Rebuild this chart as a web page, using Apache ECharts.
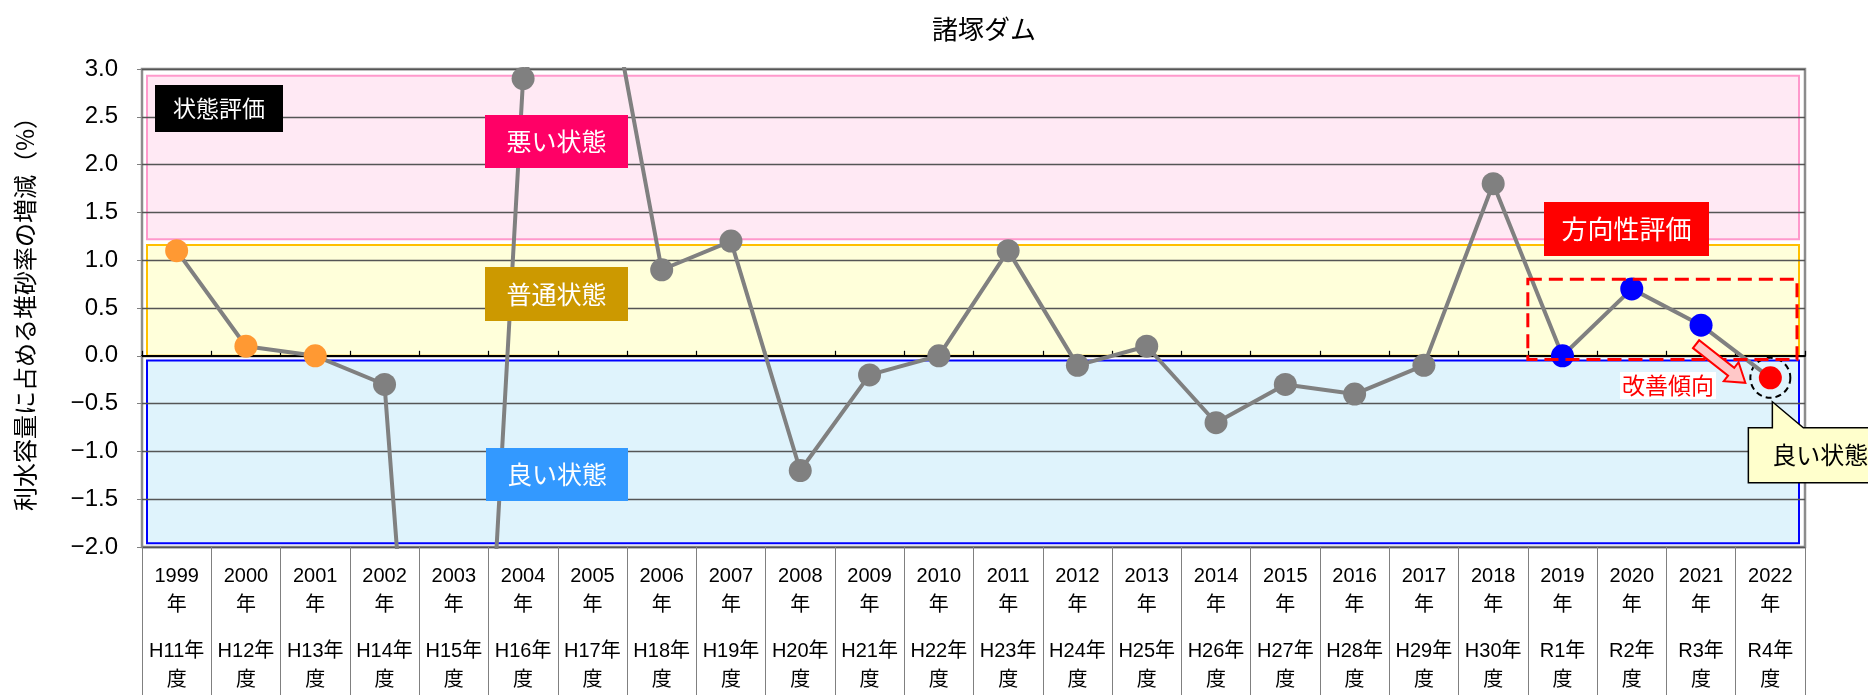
<!DOCTYPE html>
<html>
<head>
<meta charset="utf-8">
<title>諸塚ダム</title>
<script src="https://cdn.jsdelivr.net/npm/echarts@6/dist/echarts.min.js"></script>
<style>
html, body { margin: 0; padding: 0; background: #fff; }
#main { width: 1868px; height: 695px; }
</style>
</head>
<body>
<div id="main"></div>
<script>
// 西暦
const years = ['1999', '2000', '2001', '2002', '2003', '2004', '2005', '2006', '2007', '2008', '2009', '2010',
  '2011', '2012', '2013', '2014', '2015', '2016', '2017', '2018', '2019', '2020', '2021', '2022'];
// 和暦 (年度)
const eras = ['H11', 'H12', 'H13', 'H14', 'H15', 'H16', 'H17', 'H18', 'H19', 'H20', 'H21', 'H22',
  'H23', 'H24', 'H25', 'H26', 'H27', 'H28', 'H29', 'H30', 'R1', 'R2', 'R3', 'R4'];
// 利水容量に占める堆砂率の増減 (%)
const values = [1.1, 0.1, 0.0, -0.3, -9.9, 2.9, 4.8, 0.9, 1.2, -1.2, -0.2, 0.0,
  1.1, -0.1, 0.1, -0.7, -0.3, -0.4, -0.1, 1.8, 0.0, 0.7, 0.32, -0.23];

// 色分け
const earlyYears = ['1999', '2000', '2001'];
const trendYears = ['2019', '2020', '2021'];
const latestYear = '2022';

// 状態評価の帯 (%)
const badBand = [1.22, 2.93];
const normalBand = [0, 1.16];
const goodBand = [-1.96, -0.05];
const trendRange = [-0.04, 0.8];

const JP = '"Noto Sans CJK JP", sans-serif';
const NUM = '"Liberation Sans", "Noto Sans CJK JP", sans-serif';

const pointColor = (y) => {
  if (y === latestYear) return '#FF0000';
  if (trendYears.includes(y)) return '#0000FF';
  if (earlyYears.includes(y)) return '#FF9933';
  return '#808080';
};

const G = { left: 142, right: 63, top: 69, bottom: 148 };

const chart = echarts.init(document.getElementById('main'));

chart.setOption({
  animation: false,
  title: {
    text: '諸塚ダム',
    left: 927,
    top: 11,
    textStyle: { fontFamily: JP, fontSize: 26, fontWeight: 'normal', color: '#000' }
  },
  grid: {
    left: G.left, right: G.right, top: G.top, bottom: G.bottom,
    show: true, borderColor: '#8c8c8c', borderWidth: 2.5,
    outerBoundsMode: 'none'
  },
  xAxis: [
    {
      type: 'category',
      data: years,
      position: 'bottom',
      axisLine: { show: false, onZero: false },
      axisTick: { show: true, interval: 0, length: 148, lineStyle: { color: '#808080', width: 1 } },
      axisLabel: {
        interval: 0,
        margin: 15,
        color: '#000',
        formatter: (v, i) => `{a|${v}}\n{a|年}\n{g| }\n{a|${eras[i]}年}\n{a|度}`,
        rich: {
          a: { fontFamily: NUM, fontSize: 20, lineHeight: 29, color: '#000' },
          g: { fontSize: 10, lineHeight: 17 }
        }
      },
      splitLine: { show: false }
    },
    {
      type: 'category',
      data: years,
      position: 'top',
      axisLine: { show: true, onZero: true, lineStyle: { color: '#000', width: 2 } },
      axisTick: { show: true, interval: 0, length: 5, lineStyle: { color: '#000', width: 1.2 } },
      axisLabel: { show: false },
      splitLine: { show: false }
    }
  ],
  yAxis: {
    type: 'value',
    min: -2,
    max: 3,
    interval: 0.5,
    name: '利水容量に占める堆砂率の増減（%）',
    nameLocation: 'middle',
    nameGap: 105,
    nameTextStyle: { fontFamily: JP, fontSize: 24, color: '#000' },
    axisLine: { show: false },
    axisTick: { show: true, length: 5, lineStyle: { color: '#808080' } },
    axisLabel: {
      margin: 24,
      fontFamily: NUM,
      fontSize: 24,
      color: '#000',
      formatter: (v) => v.toFixed(1).replace('-', '−')
    },
    splitLine: { show: true, lineStyle: { color: '#555', width: 1.3 } }
  },
  series: [{
    type: 'line',
    xAxisIndex: 0,
    yAxisIndex: 0,
    clip: true,
    z: 5,
    data: values.map((v, i) => ({ value: v, itemStyle: { color: pointColor(years[i]) } })),
    symbol: 'circle',
    symbolSize: 23,
    lineStyle: { color: '#808080', width: 4 },
    emphasis: { disabled: true },
    markPoint: {
      symbol: 'circle',
      symbolSize: 40,
      silent: true,
      label: { show: false },
      itemStyle: { color: 'rgba(0,0,0,0)', borderColor: '#000', borderWidth: 2, borderType: [6, 4] },
      data: [{ coord: [latestYear, values[years.indexOf(latestYear)]] }]
    }
  }]
});

// 注記・帯の描画
const W = 1868;
const px = (c, v) => chart.convertToPixel({ xAxisIndex: 0, yAxisIndex: 0 }, [c, v]);
const yPx = (v) => chart.convertToPixel({ yAxisIndex: 0 }, v);
const plotL = G.left, plotR = W - G.right;
const bandL = plotL + 5, bandR = plotR - 6;

function band(range, fill, stroke) {
  const y1 = yPx(range[1]), y0 = yPx(range[0]);
  return {
    type: 'rect', z: -10, silent: true,
    shape: { x: bandL, y: y1, width: bandR - bandL, height: y0 - y1 },
    style: { fill: fill, stroke: stroke, lineWidth: 2 }
  };
}

function labelBox(x, y, w, h, text, bg, fg, size) {
  return {
    type: 'group', z: 100, silent: true,
    children: [
      { type: 'rect', z: 100, shape: { x: x, y: y, width: w, height: h }, style: { fill: bg } },
      {
        type: 'text', z: 101, x: x + w / 2, y: y + h / 2,
        style: { text: text, fill: fg, font: `${size}px ${JP}`, textAlign: 'center', textVerticalAlign: 'middle' }
      }
    ]
  };
}

const catW = (plotR - plotL) / years.length;
const p19 = px(trendYears[0], 0);
const p21 = px(trendYears[2], values[years.indexOf(trendYears[2])]);
const p22 = px(latestYear, values[years.indexOf(latestYear)]);

// 改善傾向の矢印
const tail = [p21[0] - 5, p21[1] + 19];
const tip = [p22[0] - 25, p22[1] + 5];
const dx = tip[0] - tail[0], dy = tip[1] - tail[1];
const len = Math.hypot(dx, dy);
const d = [dx / len, dy / len], n = [-dy / len, dx / len];
const neck = [tip[0] - d[0] * 18, tip[1] - d[1] * 18];
const arrowPts = [
  [tail[0] + n[0] * 5, tail[1] + n[1] * 5],
  [neck[0] + n[0] * 5, neck[1] + n[1] * 5],
  [neck[0] + n[0] * 12, neck[1] + n[1] * 12],
  tip,
  [neck[0] - n[0] * 12, neck[1] - n[1] * 12],
  [neck[0] - n[0] * 5, neck[1] - n[1] * 5],
  [tail[0] - n[0] * 5, tail[1] - n[1] * 5]
];

// 吹き出し
const tipX = p22[0] + 2, tipY = p22[1] + 24;
const boxTop = tipY + 26, boxBot = boxTop + 55, boxL = tipX - 24;
const calloutPts = [[boxL, boxTop], [tipX, boxTop], [tipX, tipY], [tipX + 31, boxTop],
  [W + 5, boxTop], [W + 5, boxBot], [boxL, boxBot]];

const trendL = p19[0] - catW / 2, trendR = plotR - 8;
const trendTop = yPx(trendRange[1]), trendBot = yPx(trendRange[0]);

chart.setOption({
  graphic: [
    band(badBand, '#FFE9F4', '#FF99CC'),
    band(normalBand, '#FFFFDA', '#FFC000'),
    band(goodBand, '#DFF3FC', '#0000FF'),
    labelBox(155, 85, 128, 47, '状態評価', '#000000', '#fff', 23),
    labelBox(485, 115, 143, 53, '悪い状態', '#FF0066', '#fff', 25),
    labelBox(485, 267, 143, 54, '普通状態', '#CC9900', '#fff', 25),
    labelBox(486, 448, 142, 53, '良い状態', '#3399FF', '#fff', 25),
    labelBox(1544, 202, 165, 54, '方向性評価', '#FF0000', '#fff', 26),
    {
      type: 'rect', z: 90, silent: true,
      shape: { x: trendL, y: trendTop, width: trendR - trendL, height: trendBot - trendTop },
      style: { fill: null, stroke: '#FF0000', lineWidth: 3, lineDash: [14, 7] }
    },
    {
      type: 'polygon', z: 95, silent: true,
      shape: { points: arrowPts },
      style: { fill: '#FFC8C8', stroke: '#FF0000', lineWidth: 2 }
    },
    labelBox(1620, 372, 96, 27, '改善傾向', '#FFFFFF', '#FF0000', 23),
    {
      type: 'polygon', z: 100, silent: true,
      shape: { points: calloutPts },
      style: { fill: '#FFFFCC', stroke: '#000', lineWidth: 1.5 }
    },
    {
      type: 'text', z: 101, silent: true, x: tipX, y: (boxTop + boxBot) / 2,
      style: { text: '良い状態', fill: '#000', font: `24px ${JP}`, textAlign: 'left', textVerticalAlign: 'middle' }
    }
  ]
});
</script>
</body>
</html>
